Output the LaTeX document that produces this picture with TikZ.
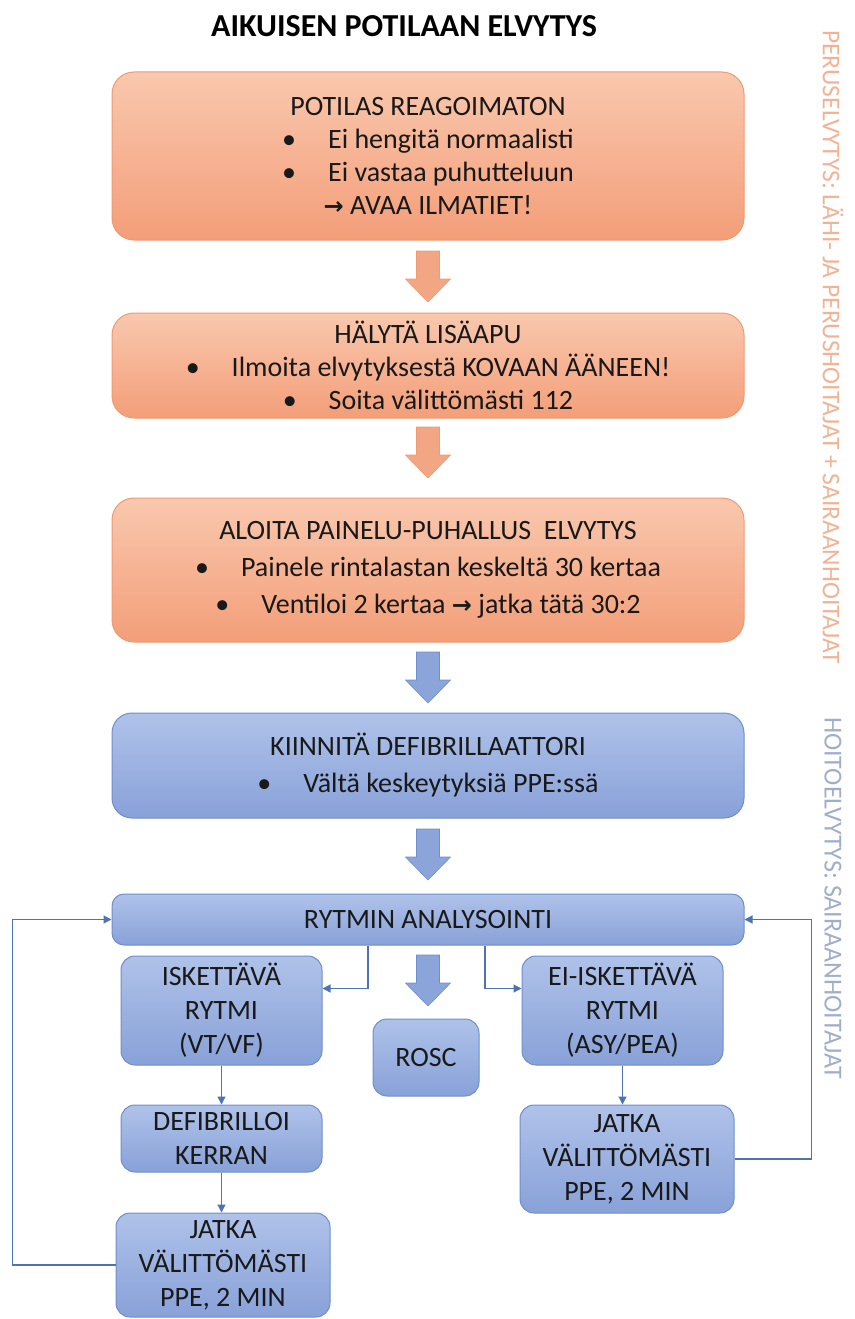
\documentclass[tikz,border=0pt]{standalone}
\usepackage{fontspec}
\setmainfont{Carlito}
\newfontfamily\symbfont{DejaVu Sans}
\usetikzlibrary{arrows.meta}

\definecolor{orangetop}{HTML}{F9C8AE}
\definecolor{orangebot}{HTML}{F39E79}
\definecolor{orangeline}{HTML}{EE9A72}
\definecolor{orangearrow}{HTML}{F3A683}
\definecolor{bluetop}{HTML}{AFC2E9}
\definecolor{bluebot}{HTML}{88A1D8}
\definecolor{blueline}{HTML}{6F8ECB}
\definecolor{bluearrow}{HTML}{8BA5DB}
\definecolor{linkblue}{HTML}{4E72B2}
\definecolor{sideorange}{HTML}{F2B394}
\definecolor{sideblue}{HTML}{A0AECA}

\newcommand{\bul}{\textbullet\hspace{32pt}}
\newcommand{\rarr}{{\symbfont\bfseries\fontsize{24}{24}\selectfont →}}

\tikzset{
  boxtext/.style={align=center, text=black!90, font=\fontsize{28}{33}\selectfont, inner sep=0pt},
  orangebox/.style={boxtext, draw=orangeline, line width=1pt, top color=orangetop, bottom color=orangebot, rounded corners=22pt, minimum width=632pt},
  bluebox/.style={boxtext, draw=blueline, line width=1pt, top color=bluetop, bottom color=bluebot, rounded corners=20pt, minimum width=632pt},
  smallbox/.style={bluebox, rounded corners=14pt, minimum width=201pt, font=\fontsize{28}{34}\selectfont},
  link/.style={draw=linkblue, line width=1.2pt, -{Triangle[length=8pt,width=8pt]}},
  pics/bigarrow/.style={code={
    \filldraw (-11.5,0) -- (11.5,0) -- (11.5,28) -- (22.5,28) -- (0,51) -- (-22.5,28) -- (-11.5,28) -- cycle;}}
}

\begin{document}
\begin{tikzpicture}[x=1pt, y=-1pt]
\useasboundingbox (0,0) rectangle (854,1319);

\node[font=\fontsize{32}{34}\selectfont\bfseries] (title) at (404,26) {AIKUISEN POTILAAN ELVYTYS};

% peruselvytys
\node[orangebox, minimum height=168pt] (potilas) at (428,156)
  {POTILAS REAGOIMATON\\ \bul Ei hengitä normaalisti\\ \bul Ei vastaa puhutteluun\\ \rarr\ AVAA ILMATIET!};
\node[orangebox, minimum height=105pt] (halyta) at (428,365.5)
  {HÄLYTÄ LISÄAPU\\ \bul Ilmoita elvytyksestä KOVAAN ÄÄNEEN!\\ \bul Soita välittömästi 112};
\node[orangebox, minimum height=144pt, font=\fontsize{28}{37}\selectfont] (aloita) at (428,570)
  {ALOITA PAINELU-PUHALLUS\ \ ELVYTYS\\ \bul Painele rintalastan keskeltä 30 kertaa\\ \bul Ventiloi 2 kertaa \rarr\ jatka tätä 30:2};

% hoitoelvytys
\node[bluebox, minimum height=105pt, font=\fontsize{28}{37}\selectfont] (kiinnita) at (428,765.5)
  {KIINNITÄ DEFIBRILLAATTORI\\ \bul Vältä keskeytyksiä PPE:ssä};
\node[bluebox, minimum height=51pt, rounded corners=12pt] (rytmi) at (428,919.5) {RYTMIN ANALYSOINTI};

\node[smallbox, minimum height=109pt] (iskettava) at (221.5,1010.5) {ISKETTÄVÄ\\ RYTMI\\ (VT/VF)};
\node[smallbox, minimum width=106pt, minimum height=77pt] (rosc) at (426,1057.5) {ROSC};
\node[smallbox, minimum height=109pt] (eiisk) at (622.5,1010.5) {EI-ISKETTÄVÄ\\ RYTMI\\ (ASY/PEA)};
\node[smallbox, minimum height=67pt] (defib) at (221.5,1138.5) {DEFIBRILLOI\\ KERRAN};
\node[smallbox, minimum width=214pt, minimum height=104pt] (jatkaL) at (223,1265) {JATKA\\ VÄLITTÖMÄSTI\\ PPE, 2 MIN};
\node[smallbox, minimum width=214pt, minimum height=108pt] (jatkaR) at (627,1159) {JATKA\\ VÄLITTÖMÄSTI\\ PPE, 2 MIN};

\pic[fill=orangearrow, draw=orangeline, line width=0.6pt] at (428,251) {bigarrow};
\pic[fill=orangearrow, draw=orangeline, line width=0.6pt] at (428,427) {bigarrow};
\pic[fill=bluearrow, draw=blueline, line width=0.6pt] at (428,652) {bigarrow};
\pic[fill=bluearrow, draw=blueline, line width=0.6pt] at (428,829) {bigarrow};
\pic[fill=bluearrow, draw=blueline, line width=0.6pt] at (428,955) {bigarrow};

\draw[link] ([xshift=-60pt]rytmi.south) |- ([yshift=22pt]iskettava.east);
\draw[link] ([xshift=57pt]rytmi.south) |- ([yshift=22pt]eiisk.west);
\draw[link] (iskettava.south) -- (defib.north);
\draw[link] (defib.south) -- (defib.south |- jatkaL.north);
\draw[link] (eiisk.south) -- (eiisk.south |- jatkaR.north);
\draw[link] (jatkaL.west) -- ++(-103,0) |- (rytmi.west);
\draw[link] (jatkaR.east) -- ++(77,0) |- (rytmi.east);

\node[rotate=-90, text=sideorange, font=\fontsize{25.5}{26}\selectfont] (perus) at (833,347)
  {PERUSELVYTYS: LÄHI- JA PERUSHOITAJAT + SAIRAANHOITAJAT};
\node[rotate=-90, text=sideblue, font=\fontsize{26}{26}\selectfont] (hoito) at (833,898)
  {HOITOELVYTYS: SAIRAANHOITAJAT};
\end{tikzpicture}
\end{document}
